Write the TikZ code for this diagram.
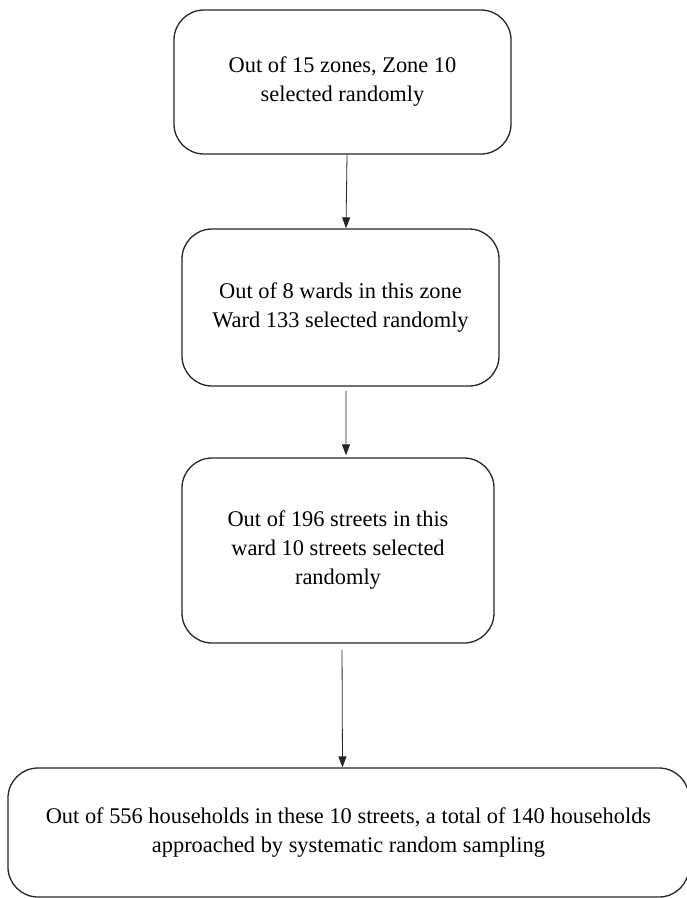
\documentclass[tikz,border=0pt]{standalone}
\usepackage{fontspec}
\setmainfont{Liberation Serif}
\usetikzlibrary{arrows.meta}

\tikzset{
  stagebox/.style={draw=black!85, line width=1.3bp, rounded corners=30bp, align=center,
    inner sep=0pt, font=\fontsize{22.4bp}{29bp}\selectfont},
  flowarrow/.style={-{Triangle[length=11bp,width=8bp]}, line width=0.8bp, black!85}
}

\begin{document}
\begin{tikzpicture}[x=1bp, y=-1bp]
    \useasboundingbox (0,0) rectangle (687,898);

    % Sampling stages
    \node[stagebox, minimum width=337bp, minimum height=144bp] (zone) at (342.5, 82)
        {Out of 15 zones, Zone 10\\selected randomly};
    \node[stagebox, minimum width=317bp, minimum height=157bp] (ward) at (340.5, 307.5)
        {Out of 8 wards in this zone\\Ward 133 selected randomly};
    \node[stagebox, minimum width=312bp, minimum height=185bp] (street) at (338, 550.5)
        {Out of 196 streets in this\\ward 10 streets selected\\randomly};
    \node[stagebox, minimum width=681bp, minimum height=129bp] (household) at (348.5, 832.5)
        {Out of 556 households in these 10 streets, a total of 140 households\\approached by systematic random sampling};

    % Connectors
    \draw[flowarrow] ([xshift=4.5bp]zone.south) -- ([xshift=5.5bp]ward.north);
    \draw[flowarrow, shorten <=4bp, shorten >=2bp] ([xshift=5.5bp]ward.south) -- ([xshift=8bp]street.north);
    \draw[flowarrow, shorten <=6bp] ([xshift=4bp]street.south) -- ([xshift=-6bp]household.north);
\end{tikzpicture}
\end{document}
